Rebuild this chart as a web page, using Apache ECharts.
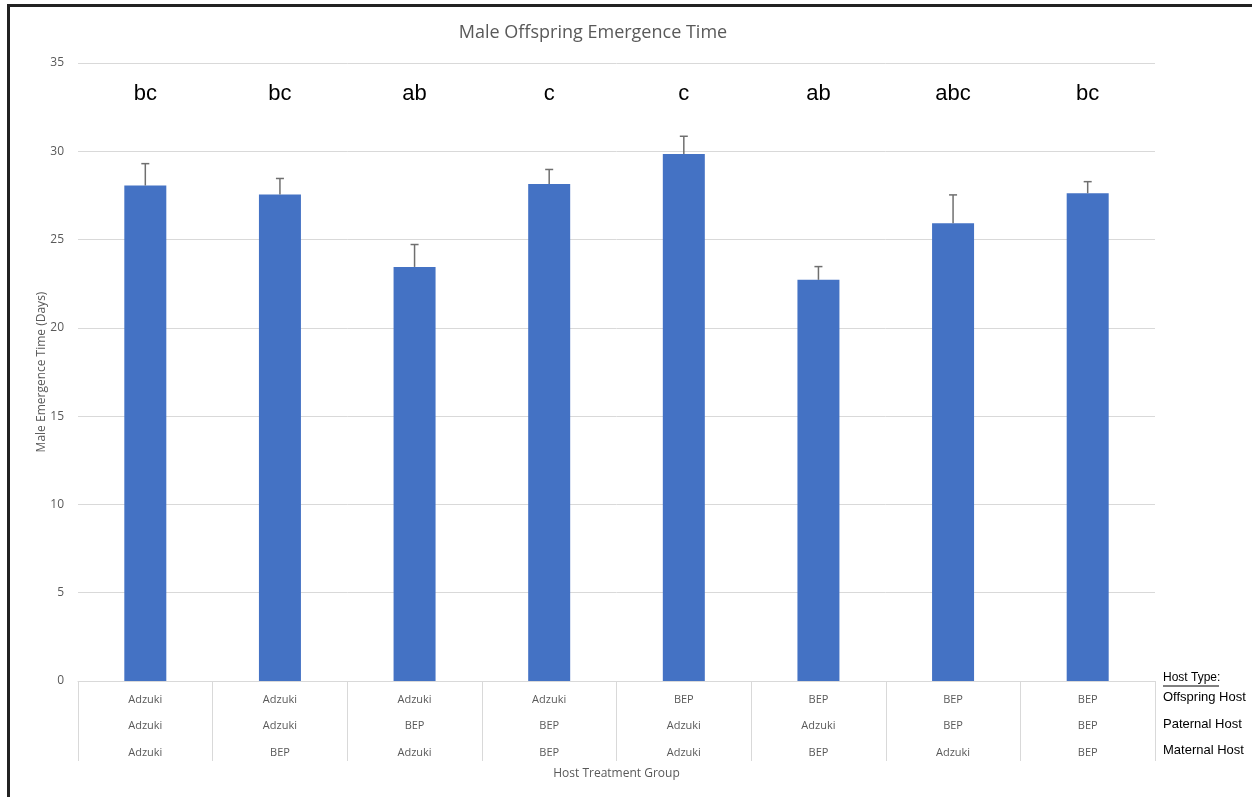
<!DOCTYPE html>
<html>
<head>
<meta charset="utf-8">
<title>Male Offspring Emergence Time</title>
<script src="https://cdn.jsdelivr.net/npm/echarts@6/dist/echarts.min.js"></script>
<style>
  html, body { margin: 0; padding: 0; background: #fff; }
  #frame {
    position: absolute; left: 7px; top: 4px; width: 1245px; height: 793px;
    border-top: 3px solid #222; border-left: 3px solid #222; box-sizing: border-box;
  }
  #chart { position: absolute; left: 0; top: 0; width: 1252px; height: 797px; }
</style>
</head>
<body>
<div id="frame"></div>
<div id="chart"></div>
<script>
// Host combination of each treatment group
const offspringHost = ['Adzuki', 'Adzuki', 'Adzuki', 'Adzuki', 'BEP', 'BEP', 'BEP', 'BEP'];
const paternalHost  = ['Adzuki', 'Adzuki', 'BEP', 'BEP', 'Adzuki', 'Adzuki', 'BEP', 'BEP'];
const maternalHost  = ['Adzuki', 'BEP', 'Adzuki', 'BEP', 'Adzuki', 'BEP', 'Adzuki', 'BEP'];

// Mean emergence time (days) and standard error per group
const meanDays  = [28.06, 27.55, 23.45, 28.15, 29.85, 22.72, 25.93, 27.62];
const errorDays = [1.24, 0.91, 1.27, 0.82, 1.0, 0.75, 1.6, 0.66];

// Significance groupings
const sigLetters = ['bc', 'bc', 'ab', 'c', 'c', 'ab', 'abc', 'bc'];

const rowNames = ['Offspring Host', 'Paternal Host', 'Maternal Host'];

const categories = offspringHost.map((o, i) => [o, paternalHost[i], maternalHost[i]].join('\n'));

const grey = '#595959';
const font = 'Liberation Sans, Arial, sans-serif';
const titleFont = 'Open Sans, Liberation Sans, sans-serif';

const chart = echarts.init(document.getElementById('chart'), null, { renderer: 'canvas' });

const rightLabels = [];
rightLabels.push({
  type: 'text', left: 1163, top: 672,
  style: { text: 'Host Type:', fill: '#000', font: '12px ' + font }
});
rightLabels.push({
  type: 'line', shape: { x1: 1163, y1: 686, x2: 1219, y2: 686 },
  style: { stroke: '#000', lineWidth: 1 }
});
const rowY = [698, 725, 751];
rowNames.forEach((name, i) => {
  rightLabels.push({
    type: 'text', left: 1163, top: rowY[i] - 7,
    style: { text: name, fill: '#000', font: '13px ' + font }
  });
});

chart.setOption({
  animation: false,
  title: {
    text: 'Male Offspring Emergence Time',
    left: 588, top: 19, textAlign: 'center',
    textStyle: { color: grey, fontSize: 18, fontWeight: 'normal', fontFamily: titleFont }
  },
  grid: { left: 78, right: 97, top: 63, bottom: 116 },
  xAxis: [
    {
      type: 'category',
      data: categories,
      name: 'Host Treatment Group',
      nameLocation: 'middle',
      nameGap: 87,
      nameMoveOverlap: false,
      nameTextStyle: { color: grey, fontSize: 12, fontFamily: titleFont },
      axisLine: { lineStyle: { color: '#d9d9d9', width: 1 } },
      axisTick: { show: true, length: 80, lineStyle: { color: '#d9d9d9' } },
      axisLabel: {
        color: grey, fontSize: 11, fontFamily: titleFont,
        lineHeight: 26.8, margin: 5, interval: 0
      }
    },
    {
      type: 'category',
      data: sigLetters,
      position: 'top',
      axisLine: { show: false },
      axisTick: { show: false },
      axisLabel: {
        inside: true, margin: 20, interval: 0,
        color: '#000', fontSize: 22, fontFamily: font
      }
    }
  ],
  yAxis: {
    type: 'value',
    min: 0, max: 35, interval: 5,
    name: 'Male Emergence Time (Days)',
    nameLocation: 'middle',
    nameGap: 30,
    nameMoveOverlap: false,
    nameTextStyle: { color: grey, fontSize: 12, fontFamily: titleFont },
    axisLine: { show: false },
    axisTick: { show: false },
    axisLabel: { color: grey, fontSize: 12, fontFamily: titleFont, margin: 14 },
    splitLine: { lineStyle: { color: '#d9d9d9', width: 1 } }
  },
  series: [
    {
      type: 'bar',
      data: meanDays,
      barWidth: 42,
      itemStyle: { color: '#4472C4' },
      z: 2
    },
    {
      type: 'custom',
      data: meanDays.map((m, i) => [i, m, m + errorDays[i]]),
      encode: { x: 0, y: [1, 2] },
      z: 3,
      renderItem: function (params, api) {
        const x = api.coord([api.value(0), api.value(1)])[0];
        const yLow = api.coord([api.value(0), api.value(1)])[1];
        const yHigh = api.coord([api.value(0), api.value(2)])[1];
        const cap = 4;
        const style = { stroke: '#6f6f6f', lineWidth: 1.5 };
        return {
          type: 'group',
          children: [
            { type: 'line', shape: { x1: x, y1: yLow, x2: x, y2: yHigh }, style: style },
            { type: 'line', shape: { x1: x - cap, y1: yHigh, x2: x + cap, y2: yHigh }, style: style }
          ]
        };
      }
    }
  ],
  graphic: rightLabels
});
</script>
</body>
</html>
